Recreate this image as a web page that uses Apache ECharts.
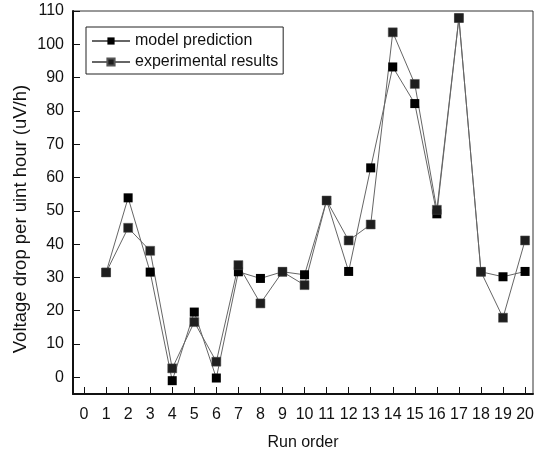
<!DOCTYPE html>
<html>
<head>
<meta charset="utf-8">
<script src="https://cdn.jsdelivr.net/npm/echarts@6/dist/echarts.min.js"></script>
<style>
  html, body { margin: 0; padding: 0; background: #fff; }
  #chart { width: 540px; height: 456px; }
</style>
</head>
<body>
<div id="chart"></div>
<script>
// run order 1..20
var runs = [1, 2, 3, 4, 5, 6, 7, 8, 9, 10, 11, 12, 13, 14, 15, 16, 17, 18, 19, 20];
var modelPrediction = [31.5, 53.9, 31.6, -1.0, 19.6, -0.2, 31.7, 29.7, 31.7, 30.8,
                       53.1, 31.8, 62.9, 93.2, 82.2, 49.1, 107.9, 31.7, 30.2, 31.8];
var experimental = [31.5, 44.9, 38.0, 2.7, 16.6, 4.7, 33.7, 22.2, 31.7, 27.7,
                    53.1, 41.1, 45.9, 103.6, 88.1, 50.3, 107.9, 31.7, 17.9, 41.1];
var xTicks = [0, 1, 2, 3, 4, 5, 6, 7, 8, 9, 10, 11, 12, 13, 14, 15, 16, 17, 18, 19, 20];
var yTicks = [0, 10, 20, 30, 40, 50, 60, 70, 80, 90, 100, 110];
var yTitle = 'Voltage drop per uint hour (uV/h)';

function pairs(ys) {
    return runs.map(function (r, i) { return [r, ys[i]]; });
}

var font = 'Liberation Sans, Arial, sans-serif';

var chart = echarts.init(document.getElementById('chart'), null, {renderer: 'canvas'});

var option = {
    animation: false,
    backgroundColor: '#fff',
    textStyle: {fontFamily: font},
    grid: {
        left: 73, right: 7, top: 11, bottom: 61,
        show: true,
        borderColor: '#333',
        borderWidth: 1
    },
    // y title drawn as rotated text so it sits where the original one is
    graphic: [{
        type: 'text',
        x: 21,
        y: 219,
        rotation: Math.PI / 2,
        style: {
            text: yTitle,
            font: '18.5px "Liberation Sans", Arial, sans-serif',
            fill: '#111',
            align: 'center',
            verticalAlign: 'middle',
            textAlign: 'center',
            textVerticalAlign: 'middle'
        }
    }],
    legend: {
        orient: 'vertical',
        left: 86,
        top: 27,
        padding: [6, 5, 4, 5],
        itemGap: 5,
        itemWidth: 38,
        itemHeight: 9,
        borderColor: '#222',
        borderWidth: 1,
        textStyle: {fontSize: 16, color: '#111', fontFamily: font},
        data: ['model prediction', 'experimental results']
    },
    xAxis: {
        type: 'value',
        min: -0.5,
        max: 20.36,
        name: 'Run order',
        nameLocation: 'middle',
        nameGap: 41,
        nameTextStyle: {fontSize: 16, color: '#111', fontFamily: font},
        splitLine: {show: false},
        axisLine: {show: true, onZero: false, lineStyle: {color: '#111', width: 2}},
        axisTick: {show: true, inside: true, length: 7, customValues: xTicks,
                   lineStyle: {color: '#111', width: 1}},
        axisLabel: {customValues: xTicks, fontSize: 16, color: '#111', margin: 13,
                    fontFamily: font}
    },
    yAxis: {
        type: 'value',
        min: -5,
        max: 110,
        splitLine: {show: false},
        axisLine: {show: true, onZero: false, lineStyle: {color: '#111', width: 2}},
        axisTick: {show: true, inside: true, length: 7, customValues: yTicks,
                   lineStyle: {color: '#111', width: 1}},
        axisLabel: {customValues: yTicks, fontSize: 16, color: '#111', margin: 9,
                    fontFamily: font}
    },
    series: [
        {
            name: 'model prediction',
            type: 'line',
            data: pairs(modelPrediction),
            symbol: 'rect',
            symbolSize: 9,
            lineStyle: {color: '#666', width: 1},
            itemStyle: {color: '#000', borderColor: '#000', borderWidth: 0}
        },
        {
            name: 'experimental results',
            type: 'line',
            data: pairs(experimental),
            symbol: 'rect',
            symbolSize: 9,
            lineStyle: {color: '#666', width: 1},
            itemStyle: {color: '#1e1e1e', borderColor: '#555', borderWidth: 0.5}
        }
    ]
};

chart.setOption(option);
</script>
</body>
</html>
